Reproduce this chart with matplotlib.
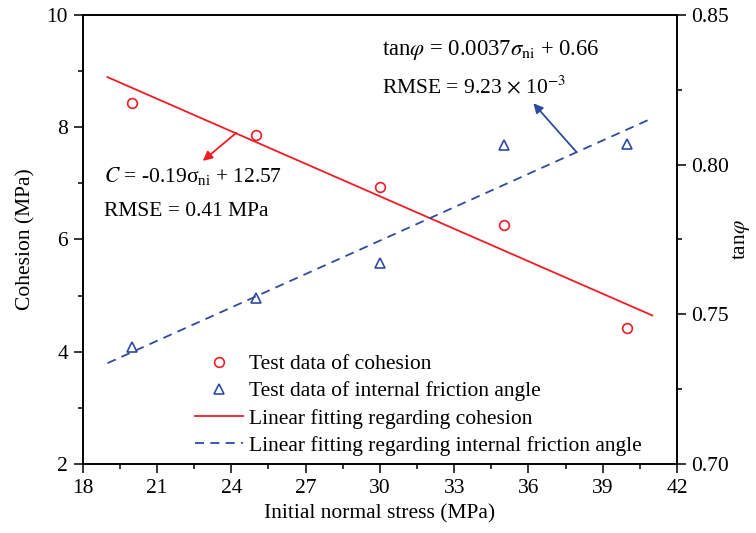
import matplotlib
matplotlib.use("Agg")
import matplotlib.pyplot as plt
import numpy as np
from matplotlib.ticker import MultipleLocator, FormatStrFormatter

plt.rcParams['font.family'] = ['Liberation Serif', 'DejaVu Serif']
plt.rcParams['mathtext.fontset'] = 'stix'

# Data
stress = [20, 25, 30, 35, 40]
cohesion = [8.43, 7.87, 6.94, 6.25, 4.43]
tan_phi = [0.739, 0.7555, 0.767, 0.8066, 0.807]
fit_x = [19, 41]
c_slope, c_int = -0.193, 12.56
t_slope, t_int = 0.00372, 0.663

red = '#EE1C25'
blue = '#2F4B9E'
FS = 15.5

fig = plt.figure(figsize=(7.56, 5.33), dpi=100)
ax = fig.add_axes([0.1094, 0.1295, 0.7861, 0.8424])
ax2 = ax.twinx()

fx = np.array(fit_x, dtype=float)
h1, = ax.plot(stress, cohesion, 'o', mfc='none', mec=red, mew=1.2, ms=7,
              label='Test data of cohesion', zorder=3)
h3, = ax.plot(fx, c_slope * fx + c_int, '-', color=red, lw=1.3,
              label='Linear fitting regarding cohesion')
h2, = ax2.plot(stress, tan_phi, '^', mfc='none', mec=blue, mew=1.2, ms=7,
               label='Test data of internal friction angle', zorder=3)
h4, = ax2.plot(fx, t_slope * fx + t_int, '--', color=blue, lw=1.3,
               dashes=(5, 3.5), label='Linear fitting regarding internal friction angle')

ax.set_xlim(18, 42)
ax.set_ylim(2, 10)
ax2.set_ylim(0.70, 0.85)

ax.xaxis.set_major_locator(MultipleLocator(3))
ax.xaxis.set_minor_locator(MultipleLocator(1.5))
ax.yaxis.set_major_locator(MultipleLocator(2))
ax.yaxis.set_minor_locator(MultipleLocator(1))
ax2.yaxis.set_major_locator(MultipleLocator(0.05))
ax2.yaxis.set_minor_locator(MultipleLocator(0.025))
ax2.yaxis.set_major_formatter(FormatStrFormatter('%.2f'))

for a in (ax, ax2):
    a.tick_params(which='major', direction='out', length=6.5, width=1.1, labelsize=FS, pad=4)
    a.tick_params(which='minor', direction='out', length=3.5, width=1.1)
    for s in a.spines.values():
        s.set_linewidth(1.2)
ax.tick_params(axis='y', which='both', right=False)
ax.tick_params(axis='x', which='both', top=False)

ax.set_xlabel('Initial normal stress (MPa)', fontsize=FS, labelpad=5)
ax.set_ylabel('Cohesion (MPa)', fontsize=FS, labelpad=8)
ax2.set_ylabel(r'tan$\varphi$', fontsize=FS, labelpad=1)

# Annotations
ax.text(18.85, 7.13, r'$C$ = -0.19$\mathregular{\sigma_{ni}}$ + 12.57', fontsize=FS, va='center', ha='left')
ax.text(18.85, 6.50, 'RMSE = 0.41 MPa', fontsize=FS, va='center', ha='left')
ax.annotate('', xy=(22.85, 7.40), xytext=(24.2, 7.90),
            arrowprops=dict(arrowstyle='-|>', color=red, lw=1.3, mutation_scale=14,
                            shrinkA=0, shrinkB=0))

ax2.text(30.1, 0.8383, r'tan$\varphi$ = 0.0037$\sigma_{\mathrm{ni}}$ + 0.66', fontsize=16.3, va='center', ha='left')
ax2.text(30.1, 0.8260, r'RMSE = 9.23 $\times$ 10$^{-3}$', fontsize=FS, va='center', ha='left')
ax2.annotate('', xy=(36.2, 0.8205), xytext=(37.93, 0.8043),
             arrowprops=dict(arrowstyle='-|>', color=blue, lw=1.3, mutation_scale=14,
                             shrinkA=0, shrinkB=0))

leg = ax.legend([h1, h2, h3, h4], [h.get_label() for h in (h1, h2, h3, h4)],
                loc='upper left', bbox_to_anchor=(0.163, 0.278), frameon=False,
                fontsize=FS, handlelength=2.23, handletextpad=0.28, labelspacing=0.33,
                borderpad=0.2)

fig.savefig('out.png', dpi=100)
